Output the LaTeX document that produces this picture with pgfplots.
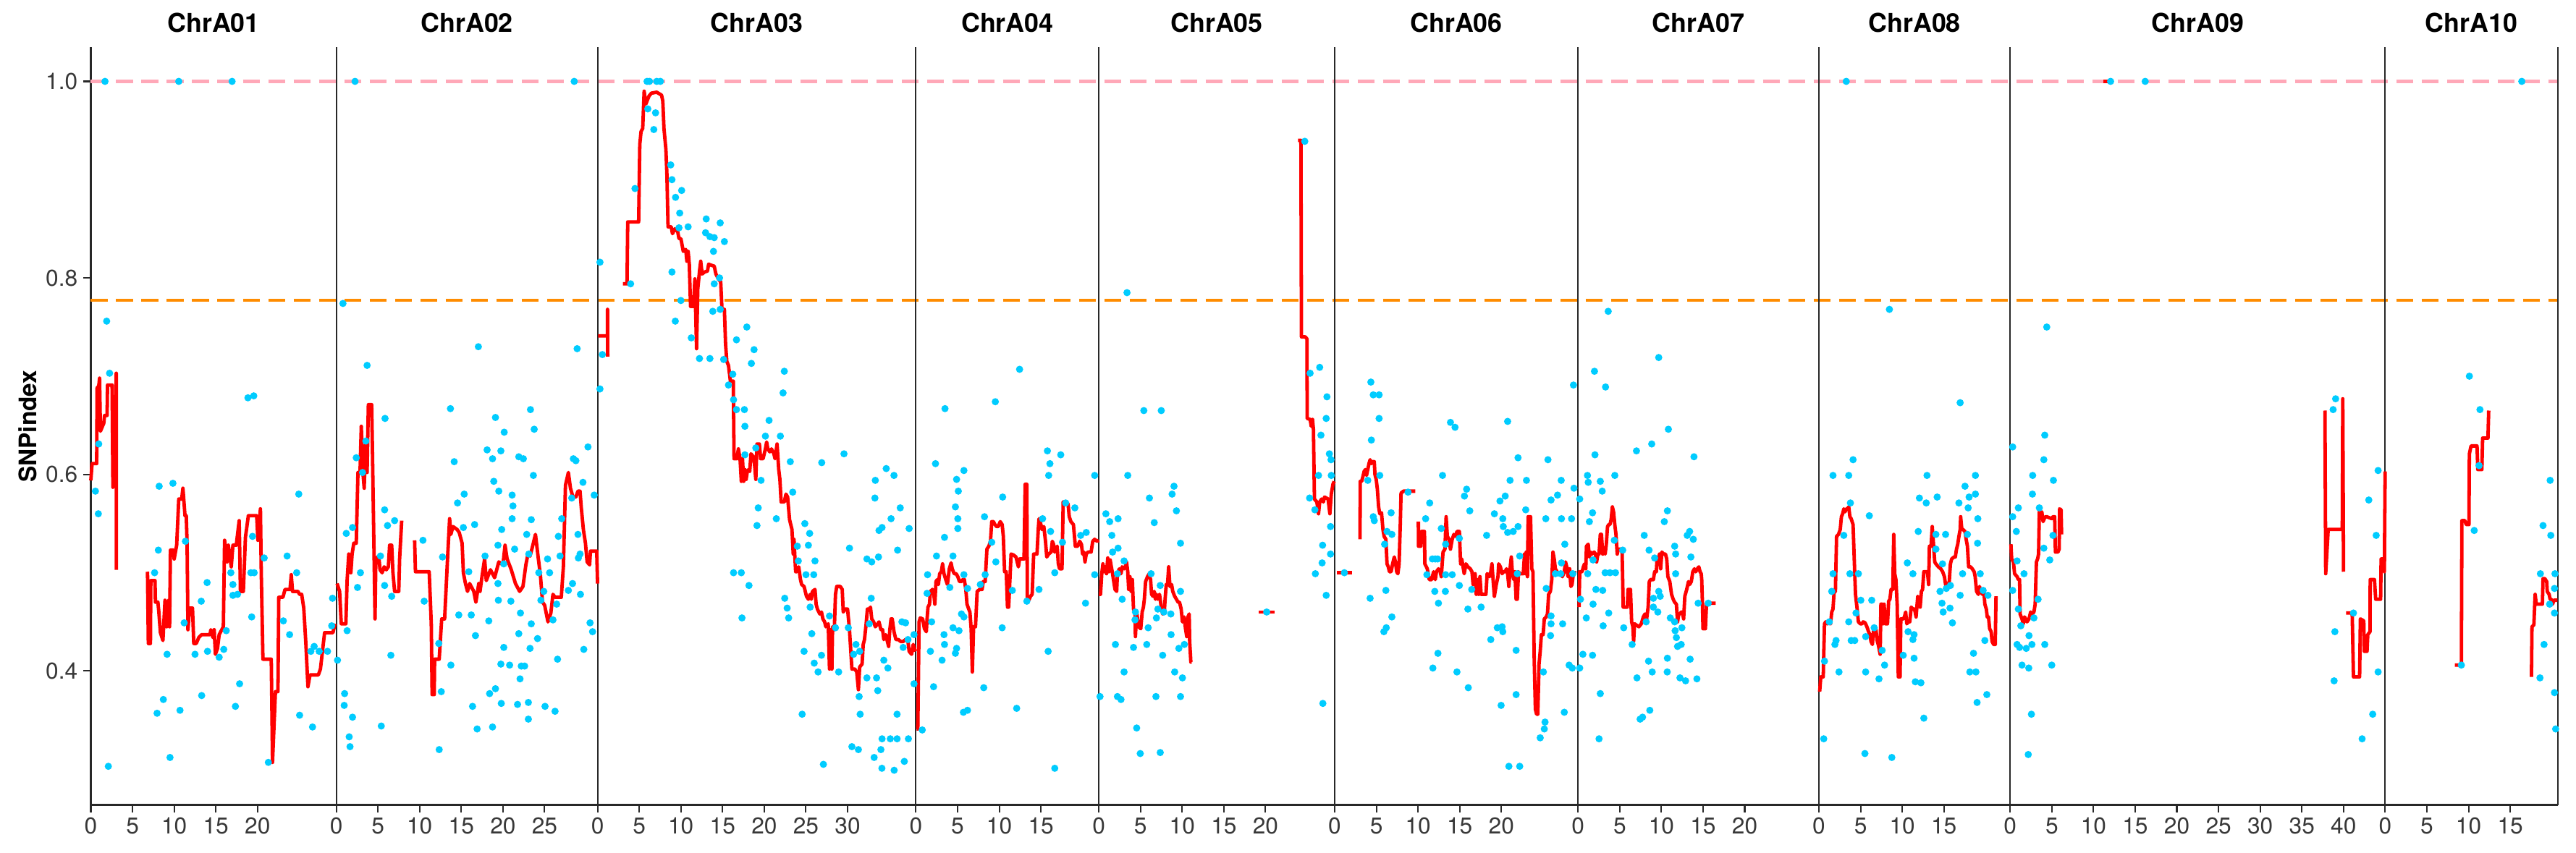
\documentclass[border=0pt]{standalone}
\usepackage{pgfplots}
\pgfplotsset{compat=1.18}
\usepackage{fontspec}
\setmainfont{TeX Gyre Heros}
\setsansfont{TeX Gyre Heros}
\definecolor{ptblue}{RGB}{0,204,255}
\definecolor{hlpink}{RGB}{255,168,184}
\definecolor{hlorange}{RGB}{255,140,0}
\definecolor{snpred}{RGB}{255,0,0}
\definecolor{axgray}{RGB}{40,40,40}
\pgfplotsset{
 redl/.style={snpred, line width=1.15pt, line join=round, mark=none},
 pts/.style={only marks, mark=*, mark size=0.98pt, color=ptblue, mark options={draw=none, fill=ptblue}},
}
\tikzset{strip/.style={anchor=base, inner sep=0pt, font=\bfseries\fontsize{8.6}{10}\selectfont}}
\begin{document}
\begin{tikzpicture}
\begin{axis}[
 scale only axis, width=817.97pt, height=251.45pt,
 xmin=0, xmax=296.0, ymin=0.2636, ymax=1.035,
 axis x line*=bottom, axis y line*=left,
 axis line style={axgray, line width=0.65pt, -},
 tick align=outside, major tick length=2.4pt,
 tick style={axgray, line width=0.5pt},
 ytick={0.4,0.6,0.8,1.0}, yticklabels={0.4,0.6,0.8,1.0},
 xtick={0,5,10,15,20, 29.45,34.45,39.45,44.45,49.45,54.45, 60.8,65.8,70.8,75.8,80.8,85.8,90.8, 99,104,109,114, 120.95,125.95,130.95,135.95,140.95, 149.25,154.25,159.25,164.25,169.25, 178.45,183.45,188.45,193.45,198.45, 207.35,212.35,217.35,222.35, 230.3,235.3,240.3,245.3,250.3,255.3,260.3,265.3,270.3, 275.3,280.3,285.3,290.3},
 xticklabels={0,5,10,15,20, 0,5,10,15,20,25, 0,5,10,15,20,25,30, 0,5,10,15, 0,5,10,15,20, 0,5,10,15,20, 0,5,10,15,20, 0,5,10,15, 0,5,10,15,20,25,30,35,40, 0,5,10,15},
 tick label style={font=\fontsize{7.6}{8.6}\selectfont, color=black!78},
 xticklabel style={inner sep=1.6pt},
 yticklabel style={inner sep=1.8pt},
 /pgf/number format/assume math mode=true,
 clip=false,
]
% threshold lines
\draw[hlpink, line width=1.0pt, dash pattern=on 5.6pt off 2.8pt] (axis cs:0,1) -- (axis cs:296,1);
\draw[hlorange, line width=0.95pt, dash pattern=on 5.6pt off 2.8pt] (axis cs:0,0.777) -- (axis cs:296,0.777);
% panel separators
\pgfplotsinvokeforeach{29.45,60.8,99.0,120.95,149.25,178.45,207.35,230.3,275.3,296.0}{
 \draw[axgray, line width=0.5pt] (axis cs:#1,0.2636) -- (axis cs:#1,1.035);
}

% ---------------- ChrA01 (offset 0)
\addplot[pts] coordinates {(1.7,1.0)(10.55,1.0)(16.95,1.0)(1.9,0.756)(2.25,0.703)(0.95,0.631)(0.55,0.583)(0.9,0.560)(2.1,0.303)(8.2,0.588)(9.85,0.591)(8.1,0.523)(7.65,0.500)(9.15,0.417)(8.7,0.371)(7.95,0.357)(9.5,0.312)(10.7,0.360)(11.35,0.532)(11.2,0.449)(12.5,0.417)(13.25,0.471)(13.95,0.490)(13.3,0.375)(14.0,0.420)(15.4,0.414)(15.95,0.422)(16.25,0.441)(16.8,0.500)(17.05,0.488)(17.05,0.477)(17.6,0.478)(17.35,0.364)(17.85,0.387)(18.85,0.678)(19.55,0.680)(19.4,0.537)(19.2,0.500)(19.6,0.500)(19.3,0.455)(20.8,0.515)(21.3,0.307)(23.55,0.517)(23.1,0.451)(23.85,0.437)(24.7,0.500)(24.95,0.580)(25.05,0.355)(26.6,0.343)(26.4,0.420)(26.8,0.425)(27.4,0.420)(28.4,0.420)(29.0,0.474)(28.9,0.446)};
\addplot[redl] coordinates {(0,0.594)(0.15,0.611)(0.7,0.611)(0.75,0.688)(0.95,0.690)(1.05,0.698)(1.15,0.644)(1.35,0.648)(1.55,0.652)(1.65,0.660)(1.95,0.660)(2.0,0.691)(2.55,0.691)(2.65,0.587)(2.85,0.595)(3.05,0.703)(3.07,0.503)};
\addplot[redl] coordinates {(6.8,0.501)(6.9,0.428)(7.15,0.428)(7.2,0.492)(7.7,0.492)(7.75,0.470)(8.05,0.470)(8.15,0.461)(8.35,0.439)(8.65,0.431)(8.9,0.472)(9.1,0.445)(9.35,0.472)(9.45,0.445)(9.55,0.523)(9.9,0.523)(10.0,0.514)(10.3,0.528)(10.55,0.575)(10.9,0.575)(11.05,0.586)(11.3,0.558)(11.45,0.558)(11.55,0.530)(11.65,0.442)(11.85,0.464)(12.2,0.464)(12.35,0.428)(12.65,0.428)(12.95,0.434)(13.3,0.437)(14.3,0.437)(14.4,0.442)(14.65,0.434)(14.8,0.442)(14.95,0.417)(15.2,0.423)(15.4,0.437)(15.9,0.445)(16.05,0.533)(16.35,0.511)(16.5,0.528)(16.85,0.506)(17.05,0.528)(17.45,0.528)(17.8,0.553)(17.95,0.481)(18.3,0.481)(18.55,0.536)(18.9,0.558)(19.9,0.558)(20.05,0.533)(20.35,0.565)(20.45,0.500)(20.65,0.412)(21.65,0.412)(21.8,0.307)(22.15,0.379)(22.45,0.379)(22.55,0.475)(23.05,0.475)(23.3,0.483)(23.9,0.483)(24.05,0.498)(24.2,0.481)(24.85,0.481)(25.05,0.478)(25.3,0.478)(25.55,0.464)(25.8,0.428)(26.05,0.384)(26.3,0.396)(27.3,0.396)(27.55,0.402)(28.05,0.439)(29.05,0.439)(29.3,0.448)};

% ---------------- ChrA02 (offset 29.45)
\addplot[pts, x filter/.expression={x+29.45}] coordinates {(2.25,1.0)(28.55,1.0)(0.8,0.774)(3.7,0.711)(5.85,0.657)(2.4,0.617)(3.55,0.634)(3.15,0.602)(1.2,0.540)(1.95,0.546)(2.9,0.500)(2.55,0.485)(1.3,0.441)(0.15,0.411)(1.0,0.377)(0.95,0.365)(1.95,0.353)(1.55,0.333)(1.65,0.323)(5.8,0.564)(6.15,0.548)(7.0,0.553)(5.3,0.517)(5.8,0.487)(6.55,0.416)(5.4,0.344)(6.65,0.476)(10.4,0.533)(10.55,0.471)(12.35,0.320)(12.6,0.379)(12.3,0.428)(12.75,0.516)(13.7,0.667)(14.15,0.613)(15.35,0.580)(14.55,0.571)(13.75,0.406)(14.7,0.457)(15.25,0.546)(15.9,0.501)(16.2,0.457)(16.6,0.549)(17.05,0.730)(16.7,0.436)(16.35,0.364)(16.9,0.341)(18.1,0.625)(18.75,0.616)(19.1,0.658)(18.9,0.593)(19.5,0.583)(20.15,0.643)(19.75,0.624)(19.85,0.544)(19.4,0.528)(17.85,0.517)(18.3,0.451)(18.4,0.377)(18.75,0.343)(19.1,0.382)(19.4,0.489)(19.45,0.472)(19.75,0.407)(20.1,0.424)(19.8,0.367)(20.1,0.509)(21.1,0.579)(21.2,0.568)(21.1,0.555)(20.95,0.471)(20.8,0.406)(21.4,0.524)(21.75,0.366)(21.9,0.618)(22.45,0.616)(21.9,0.438)(22.05,0.392)(22.2,0.405)(22.6,0.405)(22.1,0.459)(22.85,0.539)(23.05,0.368)(23.05,0.351)(23.4,0.448)(23.25,0.423)(23.3,0.666)(23.75,0.646)(23.65,0.599)(23.4,0.554)(23.1,0.519)(24.3,0.500)(24.55,0.472)(24.15,0.433)(24.9,0.481)(25.05,0.364)(25.35,0.514)(25.6,0.500)(26.0,0.452)(26.25,0.359)(26.45,0.468)(26.65,0.537)(26.55,0.412)(26.85,0.517)(27.05,0.555)(27.85,0.482)(28.35,0.489)(28.45,0.616)(28.75,0.614)(28.25,0.576)(28.9,0.728)(29.0,0.539)(29.05,0.515)(29.3,0.478)(29.6,0.592)(29.7,0.422)(30.2,0.628)(30.45,0.449)(30.75,0.440)(30.95,0.579)(29.25,0.519)};
\addplot[redl, x filter/.expression={x+29.45}] coordinates {(0.1,0.489)(0.4,0.481)(0.6,0.448)(1.15,0.448)(1.3,0.492)(1.5,0.519)(1.75,0.500)(1.9,0.519)(2.1,0.530)(2.4,0.530)(2.6,0.602)(2.85,0.602)(3.0,0.649)(3.2,0.602)(3.35,0.586)(3.5,0.630)(3.7,0.602)(3.85,0.671)(4.25,0.671)(4.35,0.619)(4.65,0.453)(4.75,0.514)(5.1,0.517)(5.25,0.503)(5.5,0.500)(5.75,0.506)(6.0,0.503)(6.25,0.506)(6.4,0.528)(6.65,0.528)(6.8,0.500)(7.0,0.481)(7.5,0.481)(7.6,0.514)(7.85,0.553)};
\addplot[redl, x filter/.expression={x+29.45}] coordinates {(9.4,0.533)(9.5,0.501)(11.15,0.501)(11.4,0.448)(11.5,0.376)(11.75,0.376)(11.8,0.412)(12.35,0.412)(12.65,0.453)(13.0,0.453)(13.35,0.514)(13.6,0.555)(13.75,0.539)(14.0,0.547)(14.5,0.544)(14.75,0.541)(15.1,0.530)(15.25,0.500)(15.5,0.489)(15.75,0.481)(16.0,0.489)(16.5,0.481)(16.75,0.470)(17.1,0.489)(17.25,0.481)(17.5,0.497)(17.8,0.514)(18.0,0.492)(18.5,0.503)(19.0,0.495)(19.25,0.503)(19.5,0.511)(20.0,0.508)(20.25,0.528)(20.5,0.514)(21.0,0.503)(21.5,0.489)(22.0,0.481)(22.4,0.486)(22.75,0.508)(23.0,0.519)(23.25,0.517)(23.5,0.525)(23.9,0.539)(24.25,0.514)(24.5,0.497)(24.75,0.470)(25.0,0.467)(25.4,0.450)(25.75,0.459)(26.0,0.478)(26.25,0.475)(27.0,0.475)(27.25,0.506)(27.5,0.589)(27.85,0.602)(28.1,0.586)(28.4,0.577)(28.75,0.577)(29.0,0.583)(29.25,0.583)(29.4,0.566)(29.65,0.544)(29.9,0.530)(30.1,0.511)(30.4,0.508)(30.5,0.522)(31.25,0.522)(31.35,0.489)};

% ---------------- ChrA03 (offset 60.8)
\addplot[pts, x filter/.expression={x+60.8}] coordinates {(0.29,0.816)(0.58,0.722)(0.29,0.687)(3.97,0.794)(4.49,0.891)(5.94,1.0)(6.23,1.0)(7.10,1.0)(7.54,1.0)(6.03,0.972)(6.96,0.968)(6.75,0.951)(8.78,0.915)(8.93,0.900)(9.36,0.882)(10.09,0.889)(9.86,0.866)(9.77,0.851)(10.87,0.852)(13.04,0.860)(14.72,0.856)(12.96,0.846)(13.48,0.842)(14.0,0.841)(15.22,0.837)(13.91,0.827)(8.93,0.806)(10.0,0.777)(9.33,0.756)(14.64,0.800)(14.0,0.794)(13.83,0.766)(14.72,0.768)(11.25,0.739)(12.23,0.718)(13.48,0.718)(16.67,0.737)(17.91,0.750)(18.78,0.727)(18.46,0.713)(15.13,0.717)(16.23,0.702)(15.71,0.691)(22.41,0.705)(22.26,0.683)(16.32,0.676)(16.67,0.666)(17.62,0.666)(17.68,0.649)(20.58,0.655)(20.14,0.639)(21.94,0.639)(17.68,0.620)(18.99,0.627)(19.62,0.594)(19.28,0.566)(19.13,0.548)(21.45,0.555)(23.13,0.613)(23.42,0.582)(26.9,0.612)(29.57,0.621)(16.32,0.500)(17.25,0.500)(18.17,0.487)(17.33,0.454)(22.46,0.474)(22.75,0.464)(22.93,0.454)(24.87,0.550)(25.45,0.540)(23.97,0.527)(25.3,0.528)(26.09,0.512)(25.94,0.498)(25.01,0.498)(24.09,0.512)(25.51,0.465)(25.71,0.438)(24.78,0.420)(26.0,0.408)(26.46,0.399)(26.87,0.416)(27.83,0.456)(28.55,0.444)(28.93,0.399)(30.23,0.525)(30.09,0.444)(31.01,0.427)(30.72,0.417)(31.45,0.420)(32.32,0.393)(31.39,0.374)(31.51,0.356)(30.52,0.323)(31.3,0.320)(27.1,0.305)(24.55,0.356)(32.32,0.514)(32.9,0.511)(33.71,0.516)(33.33,0.594)(34.64,0.606)(35.57,0.599)(33.28,0.576)(33.77,0.543)(34.14,0.546)(35.22,0.555)(36.32,0.566)(37.39,0.545)(36.0,0.523)(32.84,0.474)(32.61,0.448)(33.48,0.393)(33.62,0.380)(34.35,0.411)(34.84,0.403)(36.52,0.450)(36.96,0.449)(36.67,0.424)(37.25,0.432)(37.97,0.437)(37.97,0.387)(35.94,0.356)(34.14,0.331)(35.13,0.331)(35.94,0.331)(37.3,0.331)(33.19,0.312)(34.0,0.320)(34.12,0.301)(35.59,0.299)(36.81,0.308)};
\addplot[redl, x filter/.expression={x+60.8}] coordinates {(0.06,0.741)(1.2,0.741)(1.2,0.768)(1.22,0.72)};
\addplot[redl, x filter/.expression={x+60.8}] coordinates {(3.04,0.794)(3.54,0.794)(3.62,0.857)(4.93,0.857)(5.07,0.936)(5.22,0.949)(5.42,0.952)(5.59,0.990)(5.80,0.977)(5.94,0.980)(6.17,0.985)(6.46,0.988)(7.10,0.989)(7.68,0.986)(7.83,0.980)(7.97,0.952)(8.20,0.931)(8.32,0.906)(8.46,0.852)(8.84,0.852)(8.99,0.845)(9.28,0.850)(9.62,0.847)(9.77,0.840)(10.0,0.840)(10.29,0.827)(10.58,0.829)(10.72,0.817)(10.87,0.827)(11.01,0.814)(11.16,0.771)(11.51,0.771)(11.68,0.799)(11.88,0.728)(12.03,0.789)(12.26,0.809)(12.38,0.817)(12.55,0.804)(12.84,0.806)(13.19,0.807)(13.33,0.814)(13.62,0.813)(14.0,0.812)(14.2,0.804)(14.49,0.799)(14.78,0.796)(14.93,0.768)(15.22,0.768)(15.36,0.733)(15.51,0.715)(15.71,0.711)(15.94,0.695)(16.29,0.695)(16.38,0.616)(16.72,0.616)(16.9,0.626)(17.1,0.616)(17.25,0.593)(17.39,0.616)(17.54,0.593)(17.68,0.605)(17.83,0.595)(17.97,0.603)(18.12,0.605)(18.26,0.603)(18.41,0.621)(18.7,0.618)(18.84,0.610)(18.99,0.595)(19.13,0.631)(19.42,0.631)(19.57,0.616)(19.86,0.616)(20.14,0.626)(20.29,0.633)(20.43,0.626)(20.67,0.623)(20.87,0.626)(21.16,0.621)(21.3,0.616)(21.54,0.631)(21.74,0.605)(21.88,0.595)(22.03,0.572)(22.41,0.572)(22.61,0.580)(22.81,0.577)(23.04,0.554)(23.33,0.544)(23.48,0.519)(23.57,0.534)(23.77,0.501)(23.91,0.501)(24.14,0.506)(24.35,0.493)(24.49,0.488)(24.78,0.486)(25.07,0.476)(25.3,0.473)(25.51,0.478)(25.65,0.473)(25.8,0.481)(26.09,0.483)(26.23,0.468)(26.38,0.463)(26.67,0.458)(26.87,0.460)(27.04,0.453)(27.25,0.450)(27.39,0.445)(27.68,0.448)(27.83,0.402)(27.97,0.442)(28.12,0.402)(28.2,0.445)(28.41,0.442)(28.55,0.478)(28.7,0.486)(29.13,0.486)(29.36,0.483)(29.48,0.460)(29.71,0.463)(30.0,0.463)(30.23,0.442)(30.52,0.402)(30.87,0.402)(31.1,0.399)(31.3,0.381)(31.45,0.404)(31.74,0.407)(31.88,0.427)(32.03,0.432)(32.23,0.448)(32.38,0.463)(32.61,0.463)(32.75,0.465)(32.9,0.453)(33.13,0.450)(33.33,0.445)(33.62,0.448)(33.77,0.450)(34.0,0.442)(34.2,0.442)(34.35,0.432)(34.58,0.437)(34.78,0.430)(34.93,0.425)(35.07,0.442)(35.22,0.453)(35.36,0.453)(35.57,0.440)(35.8,0.432)(36.09,0.432)(36.38,0.430)(36.67,0.430)(36.96,0.432)(37.25,0.430)(37.39,0.420)(37.68,0.417)(37.88,0.427)(38.06,0.422)(38.17,0.420)};

% ---------------- ChrA04 (offset 99.0)
\addplot[pts, x filter/.expression={x+99.0}] coordinates {(0.76,0.340)(2.12,0.384)(1.74,0.420)(1.89,0.450)(1.34,0.479)(1.40,0.498)(2.47,0.517)(2.35,0.611)(3.49,0.667)(3.43,0.536)(3.37,0.437)(3.43,0.427)(3.14,0.411)(4.07,0.485)(4.45,0.517)(4.45,0.444)(4.74,0.418)(4.88,0.423)(5.17,0.441)(5.47,0.458)(5.76,0.455)(5.03,0.545)(5.03,0.555)(4.74,0.567)(5.09,0.583)(4.88,0.595)(5.76,0.604)(5.76,0.498)(6.19,0.484)(5.70,0.358)(6.19,0.360)(8.14,0.383)(8.23,0.557)(9.53,0.674)(9.59,0.511)(9.10,0.531)(10.41,0.577)(10.35,0.444)(7.73,0.488)(8.31,0.498)(12.44,0.707)(12.09,0.362)(11.57,0.482)(13.31,0.471)(14.77,0.483)(15.78,0.624)(16.08,0.611)(15.93,0.599)(17.38,0.620)(15.20,0.555)(16.16,0.542)(16.66,0.500)(15.87,0.420)(16.66,0.301)(17.59,0.531)(17.97,0.571)(19.07,0.566)(19.77,0.538)(20.44,0.541)(20.35,0.469)(21.45,0.599)(21.45,0.498)};
\addplot[redl, x filter/.expression={x+99.0}] coordinates {(0.09,0.341)(0.23,0.341)(0.38,0.450)(0.52,0.454)(0.81,0.453)(1.02,0.443)(1.25,0.440)(1.34,0.453)(1.45,0.465)(1.63,0.468)(1.74,0.481)(1.98,0.483)(2.12,0.481)(2.27,0.468)(2.41,0.491)(2.56,0.493)(2.70,0.488)(2.85,0.499)(3.05,0.501)(3.20,0.509)(3.37,0.499)(3.58,0.493)(3.78,0.488)(4.01,0.504)(4.22,0.510)(4.36,0.504)(4.59,0.499)(4.83,0.499)(5.03,0.496)(5.23,0.491)(5.47,0.491)(5.61,0.493)(5.81,0.493)(5.99,0.483)(6.13,0.468)(6.34,0.463)(6.48,0.460)(6.63,0.443)(6.77,0.399)(6.92,0.445)(7.15,0.445)(7.35,0.481)(7.65,0.483)(7.94,0.483)(8.08,0.491)(8.31,0.491)(8.52,0.524)(8.75,0.527)(8.95,0.532)(9.10,0.552)(9.30,0.552)(9.48,0.549)(9.68,0.547)(9.88,0.547)(10.12,0.552)(10.35,0.549)(10.49,0.537)(10.64,0.501)(10.84,0.501)(10.99,0.465)(11.13,0.465)(11.28,0.493)(11.42,0.519)(11.72,0.518)(12.01,0.516)(12.15,0.511)(12.30,0.506)(12.44,0.514)(12.73,0.514)(12.97,0.514)(13.11,0.590)(13.31,0.590)(13.37,0.471)(13.60,0.473)(13.75,0.476)(13.95,0.478)(14.13,0.519)(14.33,0.519)(14.53,0.519)(14.68,0.544)(14.77,0.555)(15.0,0.549)(15.12,0.544)(15.35,0.547)(15.55,0.532)(15.70,0.516)(15.93,0.519)(16.22,0.521)(16.37,0.532)(16.51,0.529)(16.66,0.521)(16.95,0.527)(17.09,0.509)(17.24,0.504)(17.53,0.504)(17.67,0.572)(17.97,0.572)(18.26,0.570)(18.40,0.557)(18.60,0.552)(18.90,0.549)(19.13,0.527)(19.42,0.527)(19.65,0.532)(19.86,0.529)(20.0,0.519)(20.15,0.521)(20.29,0.511)(20.44,0.519)(20.64,0.521)(20.87,0.521)(21.02,0.521)(21.22,0.532)(21.45,0.534)(21.74,0.532)(21.95,0.533)};

% ---------------- ChrA05 (offset 120.95)
\addplot[pts, x filter/.expression={x+120.95}] coordinates {(3.38,0.785)(3.47,0.599)(5.40,0.665)(7.49,0.665)(0.84,0.560)(1.30,0.552)(2.31,0.555)(1.56,0.538)(1.65,0.521)(2.31,0.525)(3.03,0.512)(2.23,0.499)(2.80,0.473)(1.99,0.427)(3.03,0.399)(2.23,0.374)(2.66,0.371)(0.14,0.374)(4.54,0.342)(4.97,0.316)(7.37,0.317)(6.07,0.576)(6.65,0.551)(6.27,0.499)(5.92,0.444)(5.75,0.427)(4.16,0.424)(4.39,0.460)(4.34,0.452)(6.85,0.374)(7.66,0.416)(6.91,0.454)(7.08,0.463)(7.37,0.487)(7.80,0.460)(8.64,0.458)(8.67,0.437)(9.02,0.588)(8.79,0.580)(9.31,0.563)(9.80,0.530)(9.80,0.481)(9.60,0.423)(9.10,0.399)(10.03,0.393)(9.80,0.374)(10.26,0.427)(20.14,0.460)(24.71,0.939)(25.35,0.703)(26.50,0.709)(27.37,0.679)(27.28,0.657)(26.65,0.640)(26.36,0.599)(25.29,0.576)(25.92,0.564)(27.66,0.621)(27.86,0.615)(27.89,0.599)(27.80,0.547)(26.85,0.528)(27.80,0.519)(26.79,0.510)(25.98,0.499)(27.28,0.477)(26.88,0.367)};
\addplot[redl, x filter/.expression={x+120.95}] coordinates {(0,0.478)(0.2,0.478)(0.35,0.499)(0.49,0.509)(0.64,0.501)(0.78,0.506)(0.92,0.499)(1.07,0.515)(1.21,0.501)(1.36,0.513)(1.50,0.506)(1.65,0.499)(1.79,0.491)(1.94,0.483)(2.14,0.481)(2.23,0.499)(2.46,0.504)(2.66,0.499)(2.80,0.506)(3.03,0.504)(3.18,0.506)(3.32,0.511)(3.47,0.501)(3.58,0.483)(3.73,0.496)(3.87,0.481)(4.02,0.493)(4.16,0.463)(4.34,0.460)(4.39,0.435)(4.54,0.460)(4.77,0.445)(5.03,0.443)(5.20,0.460)(5.35,0.465)(5.46,0.473)(5.61,0.491)(5.84,0.496)(6.04,0.499)(6.21,0.493)(6.33,0.478)(6.50,0.476)(6.65,0.481)(6.79,0.473)(6.91,0.478)(7.08,0.473)(7.28,0.478)(7.49,0.465)(7.66,0.458)(7.86,0.460)(7.95,0.473)(8.09,0.488)(8.24,0.488)(8.38,0.506)(8.53,0.486)(8.73,0.488)(8.87,0.481)(9.10,0.476)(9.31,0.473)(9.51,0.470)(9.68,0.470)(9.88,0.463)(10.03,0.450)(10.23,0.455)(10.40,0.443)(10.55,0.435)(10.69,0.455)(10.84,0.458)(10.90,0.430)(11.04,0.409)(11.13,0.409)};
\addplot[redl, x filter/.expression={x+120.95}] coordinates {(19.22,0.460)(21.07,0.460)};
\addplot[redl, x filter/.expression={x+120.95}] coordinates {(23.90,0.940)(24.25,0.940)(24.31,0.740)(24.77,0.740)(24.97,0.738)(25.0,0.657)(25.35,0.656)(25.49,0.649)(25.64,0.656)(25.75,0.646)(25.87,0.575)(26.16,0.572)(26.36,0.560)(26.50,0.572)(26.73,0.575)(26.94,0.572)(27.08,0.577)(27.31,0.576)(27.51,0.575)(27.72,0.560)(27.89,0.580)(28.09,0.590)(28.24,0.593)};

% ---------------- ChrA06 (offset 149.25)
\addplot[pts, x filter/.expression={x+149.25}] coordinates {(1.16,0.500)(4.34,0.694)(4.63,0.681)(5.33,0.681)(5.33,0.657)(4.40,0.635)(5.41,0.599)(3.97,0.594)(4.63,0.557)(4.75,0.553)(6.77,0.561)(6.28,0.542)(6.86,0.539)(5.99,0.529)(4.25,0.474)(6.14,0.482)(6.86,0.455)(5.90,0.440)(6.19,0.444)(8.80,0.582)(11.40,0.571)(10.91,0.555)(12.94,0.599)(13.89,0.653)(14.44,0.648)(12.79,0.545)(12.07,0.514)(11.72,0.514)(12.36,0.514)(11.06,0.498)(13.31,0.498)(14.10,0.498)(13.31,0.529)(14.96,0.535)(12.01,0.481)(12.45,0.469)(13.28,0.481)(14.96,0.487)(11.78,0.403)(12.39,0.418)(14.67,0.399)(16.03,0.383)(15.98,0.463)(16.44,0.483)(15.83,0.585)(15.57,0.578)(16.21,0.563)(18.23,0.538)(17.57,0.465)(19.16,0.560)(18.73,0.432)(19.51,0.444)(20.09,0.445)(20.17,0.440)(19.83,0.573)(20.46,0.578)(20.17,0.555)(20.23,0.547)(20.75,0.541)(21.42,0.542)(20.75,0.654)(21.04,0.594)(22.0,0.617)(22.0,0.547)(22.20,0.517)(23.01,0.594)(22.92,0.564)(21.91,0.499)(21.77,0.421)(19.97,0.365)(21.77,0.376)(20.90,0.303)(22.20,0.303)(25.04,0.399)(24.66,0.332)(25.15,0.341)(25.24,0.348)(25.38,0.484)(25.59,0.615)(25.96,0.574)(26.74,0.579)(27.18,0.594)(25.33,0.555)(27.21,0.555)(28.42,0.555)(27.61,0.529)(27.21,0.510)(26.48,0.499)(27.12,0.499)(25.96,0.456)(25.96,0.448)(25.90,0.436)(27.35,0.448)(28.13,0.406)(28.51,0.403)(27.55,0.358)(28.65,0.691)(28.71,0.586)(28.57,0.499)};
\addplot[redl, x filter/.expression={x+149.25}] coordinates {(0.29,0.500)(2.08,0.500)};
\addplot[redl, x filter/.expression={x+149.25}] coordinates {(3.04,0.534)(3.06,0.593)(3.24,0.593)(3.39,0.598)(3.53,0.603)(3.68,0.605)(3.82,0.599)(3.97,0.605)(4.11,0.611)(4.25,0.615)(4.40,0.611)(4.54,0.613)(4.75,0.613)(4.83,0.600)(4.98,0.595)(5.12,0.585)(5.27,0.567)(5.41,0.560)(5.62,0.561)(5.79,0.544)(5.93,0.537)(6.14,0.534)(6.28,0.509)(6.43,0.506)(6.57,0.501)(6.77,0.501)(6.95,0.509)(7.15,0.516)(7.29,0.511)(7.44,0.501)(7.58,0.499)(7.73,0.509)(7.87,0.549)(7.96,0.581)(8.25,0.583)(9.03,0.583)(9.67,0.583)};
\addplot[redl, x filter/.expression={x+149.25}] coordinates {(10.04,0.552)(10.05,0.527)(10.33,0.527)(10.42,0.542)(10.77,0.542)(10.82,0.509)(11.0,0.506)(11.11,0.504)(11.35,0.493)(11.64,0.493)(11.87,0.501)(12.07,0.493)(12.21,0.501)(12.45,0.504)(12.65,0.501)(12.79,0.496)(13.0,0.521)(13.23,0.524)(13.37,0.557)(13.52,0.537)(13.72,0.534)(13.89,0.524)(14.10,0.534)(14.30,0.539)(14.53,0.537)(14.67,0.542)(14.96,0.542)(15.11,0.509)(15.25,0.514)(15.40,0.506)(15.54,0.499)(15.75,0.509)(15.98,0.506)(16.27,0.504)(16.47,0.501)(16.61,0.488)(16.85,0.499)(16.99,0.478)(17.14,0.493)(17.28,0.478)(17.43,0.496)(17.57,0.478)(17.86,0.478)(18.15,0.478)(18.29,0.499)(18.58,0.496)(18.73,0.501)(18.87,0.509)(19.02,0.491)(19.16,0.476)(19.39,0.488)(19.59,0.496)(19.68,0.509)(19.88,0.506)(20.09,0.499)(20.23,0.501)(20.46,0.501)(20.61,0.504)(20.75,0.499)(20.90,0.486)(21.04,0.504)(21.19,0.516)(21.33,0.499)(21.48,0.493)(21.62,0.501)(21.77,0.473)(21.91,0.473)(22.06,0.501)(22.20,0.499)(22.34,0.499)(22.63,0.499)(22.78,0.519)(22.87,0.499)(22.98,0.521)(23.13,0.496)(23.21,0.557)(23.50,0.557)(23.65,0.504)(23.79,0.501)(23.94,0.412)(24.08,0.361)(24.23,0.356)(24.37,0.356)(24.52,0.407)(24.66,0.420)(24.80,0.437)(25.01,0.437)(25.15,0.453)(25.38,0.455)(25.53,0.458)(25.67,0.478)(25.88,0.481)(26.05,0.493)(26.19,0.521)(26.34,0.514)(26.48,0.504)(26.69,0.501)(26.92,0.499)(27.12,0.499)(27.32,0.496)(27.55,0.501)(27.70,0.511)(27.84,0.506)(27.99,0.496)(28.19,0.504)(28.34,0.486)(28.48,0.488)(28.65,0.500)(29.0,0.500)};

% ---------------- ChrA07 (offset 178.45)
\addplot[pts, x filter/.expression={x+178.45}] coordinates {(3.62,0.766)(1.97,0.705)(3.30,0.689)(9.68,0.719)(10.84,0.646)(8.84,0.631)(7.01,0.624)(2.03,0.620)(13.91,0.618)(1.13,0.599)(1.22,0.592)(4.41,0.599)(2.67,0.593)(2.90,0.583)(0.20,0.575)(1.74,0.561)(1.36,0.552)(10.72,0.563)(10.35,0.552)(7.94,0.538)(13.39,0.542)(13.10,0.538)(13.83,0.534)(4.35,0.533)(5.36,0.523)(8.52,0.523)(9.19,0.515)(11.59,0.527)(11.71,0.519)(13.54,0.516)(1.80,0.513)(1.16,0.499)(3.25,0.500)(3.83,0.500)(4.49,0.500)(11.71,0.499)(2.14,0.483)(2.96,0.482)(0.29,0.473)(1.80,0.468)(0.99,0.454)(3.68,0.459)(3.01,0.446)(5.48,0.444)(9.68,0.481)(9.86,0.476)(9.04,0.474)(9.04,0.465)(9.57,0.460)(8.17,0.450)(11.07,0.454)(11.59,0.450)(11.65,0.441)(11.80,0.434)(12.46,0.444)(11.94,0.425)(12.38,0.427)(14.41,0.469)(15.62,0.469)(6.49,0.427)(0.58,0.417)(1.74,0.416)(0.20,0.403)(8.46,0.410)(8.90,0.399)(10.72,0.413)(10.70,0.399)(13.45,0.412)(7.07,0.393)(12.23,0.393)(12.90,0.390)(14.26,0.392)(2.67,0.377)(7.45,0.351)(7.74,0.353)(8.61,0.360)(2.52,0.331)};
\addplot[redl, x filter/.expression={x+178.45}] coordinates {(0.12,0.465)(0.20,0.501)(0.49,0.501)(0.64,0.506)(0.78,0.509)(0.93,0.504)(1.01,0.527)(1.22,0.529)(1.36,0.516)(1.51,0.521)(1.65,0.519)(1.94,0.521)(2.09,0.519)(2.23,0.511)(2.38,0.519)(2.52,0.519)(2.67,0.539)(2.81,0.539)(2.96,0.519)(3.10,0.524)(3.25,0.519)(3.39,0.529)(3.54,0.547)(3.68,0.549)(3.83,0.549)(3.97,0.554)(4.12,0.567)(4.26,0.562)(4.41,0.549)(4.55,0.539)(4.70,0.519)(4.84,0.524)(5.28,0.524)(5.42,0.465)(5.91,0.465)(6.0,0.483)(6.29,0.483)(6.43,0.450)(6.58,0.445)(6.67,0.430)(6.78,0.448)(7.30,0.445)(7.59,0.448)(7.83,0.455)(8.03,0.458)(8.23,0.453)(8.41,0.465)(8.55,0.491)(8.70,0.493)(9.04,0.493)(9.19,0.501)(9.39,0.501)(9.48,0.514)(9.62,0.509)(9.77,0.519)(9.91,0.504)(10.06,0.521)(10.26,0.519)(10.49,0.519)(10.64,0.514)(10.78,0.496)(11.01,0.491)(11.22,0.478)(11.42,0.473)(11.59,0.470)(11.80,0.468)(11.94,0.450)(12.09,0.458)(12.23,0.458)(12.38,0.460)(12.52,0.460)(12.67,0.453)(12.81,0.476)(13.04,0.483)(13.25,0.491)(13.39,0.488)(13.59,0.491)(13.77,0.501)(13.97,0.504)(14.12,0.501)(14.32,0.504)(14.49,0.506)(14.64,0.501)(14.78,0.499)(14.84,0.493)(14.93,0.468)(14.99,0.443)(15.28,0.443)(15.42,0.469)(15.71,0.469)(16.52,0.469)};

% ---------------- ChrA08 (offset 207.35)
\addplot[pts, x filter/.expression={x+207.35}] coordinates {(3.28,1.0)(8.46,0.768)(16.95,0.673)(4.10,0.615)(1.69,0.599)(3.58,0.599)(12.97,0.599)(18.78,0.599)(17.53,0.588)(14.19,0.577)(12.06,0.576)(12.88,0.571)(3.78,0.571)(16.80,0.571)(18.02,0.577)(17.91,0.566)(18.78,0.580)(6.05,0.558)(19.07,0.555)(2.99,0.538)(11.92,0.542)(15.20,0.539)(14.04,0.539)(17.82,0.539)(19.04,0.530)(10.61,0.510)(1.69,0.499)(3.72,0.499)(4.74,0.499)(11.28,0.499)(14.04,0.524)(14.83,0.509)(17.24,0.499)(19.36,0.499)(1.54,0.481)(14.53,0.481)(14.77,0.469)(14.91,0.460)(15.78,0.487)(15.29,0.484)(16.95,0.477)(20.29,0.477)(19.71,0.482)(5.03,0.472)(6.34,0.472)(4.45,0.459)(3.58,0.450)(1.25,0.450)(16.02,0.449)(15.73,0.464)(1.92,0.427)(2.06,0.431)(3.87,0.431)(4.30,0.431)(5.61,0.435)(6.63,0.444)(10.70,0.440)(11.42,0.437)(11.28,0.432)(19.91,0.431)(0.67,0.410)(2.41,0.399)(5.61,0.399)(7.88,0.406)(7.21,0.392)(10.12,0.416)(11.42,0.413)(7.59,0.421)(11.57,0.389)(12.24,0.388)(18.11,0.399)(18.84,0.399)(18.55,0.418)(18.98,0.368)(20.15,0.376)(12.59,0.352)(0.58,0.331)(5.52,0.316)(8.75,0.312)};
\addplot[redl, x filter/.expression={x+207.35}] coordinates {(0.09,0.379)(0.23,0.394)(0.52,0.394)(0.67,0.448)(0.81,0.450)(1.02,0.448)(1.19,0.450)(1.40,0.448)(1.54,0.460)(1.69,0.463)(1.83,0.481)(1.98,0.481)(2.12,0.537)(2.35,0.539)(2.56,0.544)(2.70,0.557)(2.85,0.560)(2.99,0.565)(3.14,0.562)(3.28,0.565)(3.43,0.565)(3.58,0.567)(3.72,0.557)(3.87,0.555)(4.10,0.549)(4.22,0.519)(4.39,0.478)(4.59,0.463)(4.74,0.450)(4.97,0.448)(5.17,0.448)(5.32,0.450)(5.55,0.449)(5.76,0.445)(5.96,0.440)(6.13,0.437)(6.25,0.430)(6.42,0.427)(6.54,0.440)(6.72,0.445)(6.83,0.443)(7.01,0.430)(7.12,0.427)(7.35,0.417)(7.44,0.468)(7.59,0.468)(7.70,0.448)(7.82,0.468)(7.99,0.448)(8.23,0.448)(8.37,0.471)(8.52,0.473)(8.66,0.483)(8.87,0.483)(8.98,0.539)(9.10,0.499)(9.24,0.493)(9.39,0.468)(9.53,0.394)(9.74,0.394)(9.83,0.453)(10.12,0.453)(10.26,0.455)(10.41,0.460)(10.55,0.448)(10.70,0.450)(10.90,0.450)(11.08,0.465)(11.28,0.463)(11.48,0.463)(11.66,0.455)(11.86,0.476)(12.01,0.473)(12.15,0.465)(12.30,0.481)(12.44,0.483)(12.59,0.501)(12.82,0.501)(13.02,0.501)(13.17,0.488)(13.26,0.527)(13.46,0.527)(13.60,0.547)(13.75,0.529)(13.90,0.511)(14.04,0.509)(14.33,0.506)(14.62,0.504)(14.85,0.501)(15.06,0.496)(15.20,0.488)(15.35,0.486)(15.49,0.488)(15.64,0.491)(15.78,0.509)(15.93,0.514)(16.22,0.516)(16.37,0.516)(16.51,0.524)(16.66,0.529)(16.80,0.537)(16.95,0.544)(17.01,0.557)(17.15,0.544)(17.30,0.544)(17.53,0.542)(17.67,0.534)(17.82,0.527)(17.97,0.506)(18.20,0.506)(18.40,0.504)(18.63,0.501)(18.75,0.496)(18.92,0.481)(19.13,0.478)(19.27,0.486)(19.42,0.481)(19.62,0.478)(19.80,0.481)(19.91,0.468)(20.09,0.463)(20.20,0.455)(20.35,0.455)(20.49,0.443)(20.67,0.440)(20.78,0.430)(20.96,0.427)(21.16,0.427)(21.25,0.476)};

% ---------------- ChrA09 (offset 230.3)
\addplot[redl, x filter/.expression={x+230.3}] coordinates {(11.2,1.0)(12.25,1.0)};
\addplot[pts, x filter/.expression={x+230.3}] coordinates {(12.05,1.0)(16.20,1.0)(4.39,0.750)(4.15,0.640)(4.04,0.615)(0.30,0.628)(2.70,0.599)(2.67,0.580)(5.19,0.594)(0.30,0.557)(0.98,0.566)(3.50,0.566)(0.74,0.542)(5.13,0.538)(4.04,0.525)(0.83,0.512)(4.75,0.513)(1.66,0.499)(0.30,0.482)(3.35,0.473)(0.98,0.463)(2.85,0.454)(1.28,0.446)(2.26,0.436)(0.83,0.427)(1.13,0.424)(1.93,0.423)(2.61,0.427)(4.15,0.427)(1.42,0.406)(2.23,0.403)(4.99,0.406)(2.55,0.356)(2.17,0.315)(39.05,0.677)(38.75,0.666)(38.96,0.440)(38.87,0.390)(41.19,0.459)(43.03,0.574)(44.15,0.604)(43.92,0.538)(44.15,0.399)(43.50,0.356)(42.23,0.331)};
\addplot[redl, x filter/.expression={x+230.3}] coordinates {(0.09,0.529)(0.18,0.514)(0.39,0.511)(0.53,0.499)(0.83,0.496)(0.98,0.493)(1.13,0.493)(1.19,0.458)(1.42,0.453)(1.57,0.448)(1.72,0.455)(1.87,0.453)(2.02,0.450)(2.26,0.453)(2.46,0.460)(2.61,0.458)(2.85,0.460)(3.0,0.468)(3.15,0.511)(3.29,0.514)(3.41,0.519)(3.50,0.562)(3.65,0.557)(3.80,0.562)(3.95,0.552)(4.09,0.555)(4.24,0.557)(4.39,0.557)(4.69,0.556)(4.99,0.555)(5.13,0.557)(5.34,0.557)(5.43,0.521)(5.73,0.521)(5.88,0.524)(5.93,0.565)(6.11,0.564)(6.17,0.539)};
\addplot[redl, x filter/.expression={x+230.3}] coordinates {(37.77,0.665)(37.86,0.499)(38.16,0.544)(39.85,0.544)(39.91,0.677)(40.0,0.501)};
\addplot[redl, x filter/.expression={x+230.3}] coordinates {(40.30,0.459)(41.04,0.459)(41.19,0.394)(41.93,0.394)(42.02,0.453)(42.43,0.451)(42.49,0.420)(42.82,0.420)(42.91,0.437)(43.18,0.440)(43.20,0.493)(43.71,0.493)(43.86,0.473)(44.45,0.473)(44.51,0.514)(44.75,0.514)(44.90,0.501)(44.99,0.603)};

% ---------------- ChrA10 (offset 275.3)
\addplot[pts, x filter/.expression={x+275.3}] coordinates {(16.39,1.0)(10.10,0.700)(11.37,0.666)(11.26,0.609)(10.68,0.543)(9.14,0.406)(19.79,0.594)(18.94,0.548)(19.87,0.538)(18.62,0.499)(20.37,0.499)(20.31,0.484)(19.73,0.468)(20.31,0.459)(19.06,0.427)(18.57,0.393)(20.31,0.378)(20.45,0.341)};
\addplot[redl, x filter/.expression={x+275.3}] coordinates {(8.36,0.406)(9.14,0.406)(9.20,0.553)(9.57,0.553)(9.72,0.549)(10.05,0.549)(10.10,0.621)(10.30,0.629)(11.02,0.629)(11.11,0.605)(11.60,0.605)(11.69,0.637)(12.33,0.637)(12.42,0.665)};
\addplot[redl, x filter/.expression={x+275.3}] coordinates {(17.55,0.394)(17.61,0.445)(17.84,0.447)(17.99,0.478)(18.13,0.468)(18.86,0.468)(18.94,0.494)(19.15,0.494)(19.38,0.491)(19.44,0.481)(19.67,0.478)(19.79,0.473)(19.96,0.473)(20.08,0.468)(20.25,0.472)(20.66,0.472)};

% strip labels
\node[strip] at ([yshift=4.9pt]axis cs:14.73,1.035) {ChrA01};
\node[strip] at ([yshift=4.9pt]axis cs:45.13,1.035) {ChrA02};
\node[strip] at ([yshift=4.9pt]axis cs:79.9,1.035) {ChrA03};
\node[strip] at ([yshift=4.9pt]axis cs:109.98,1.035) {ChrA04};
\node[strip] at ([yshift=4.9pt]axis cs:135.1,1.035) {ChrA05};
\node[strip] at ([yshift=4.9pt]axis cs:163.85,1.035) {ChrA06};
\node[strip] at ([yshift=4.9pt]axis cs:192.9,1.035) {ChrA07};
\node[strip] at ([yshift=4.9pt]axis cs:218.83,1.035) {ChrA08};
\node[strip] at ([yshift=4.9pt]axis cs:252.8,1.035) {ChrA09};
\node[strip] at ([yshift=4.9pt]axis cs:285.65,1.035) {ChrA10};
\node[rotate=90, anchor=center, inner sep=0pt, font=\bfseries\fontsize{8}{9.5}\selectfont] at ([xshift=-21pt]axis cs:0,0.649) {SNPindex};
\end{axis}
\pgfresetboundingbox
\useasboundingbox (-30.12pt,-15.91pt) rectangle (824.04pt,267.05pt);
\end{tikzpicture}
\end{document}
